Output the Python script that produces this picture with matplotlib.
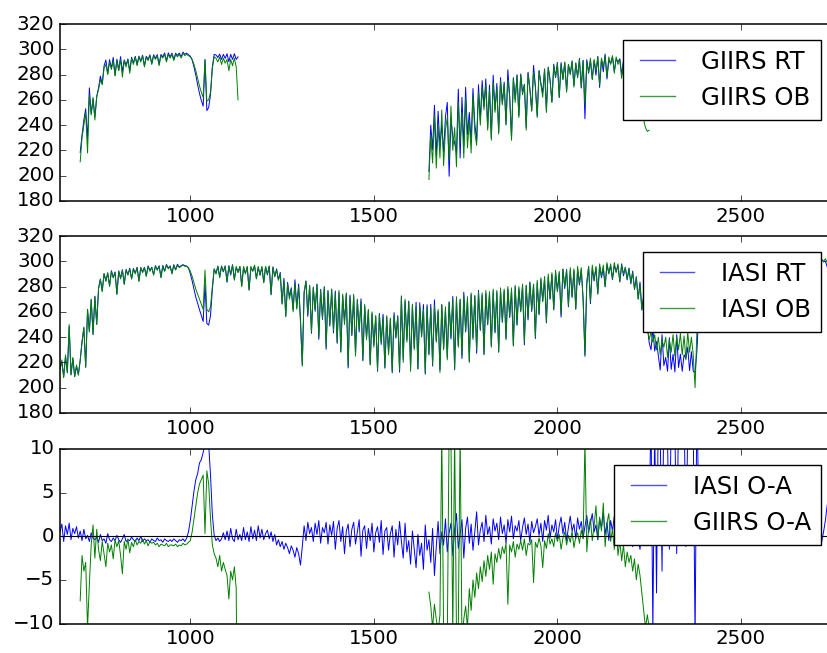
import numpy as np
import matplotlib
matplotlib.use("Agg")
import matplotlib.pyplot as plt
from matplotlib.lines import Line2D

# ---------------------------------------------------------------------------
# Brightness temperature spectra (K) and O-A departures (K), 5 cm-1 sampling
# ---------------------------------------------------------------------------

# IASI, 645-2760 cm-1
iasi_ob = [
    215, 222, 208, 226, 212, 250, 210, 224, 209, 218,   # 645-690
    210, 222, 236, 248, 216, 262, 244, 270, 242, 272,   # 695-740
    250, 278, 286, 276, 290, 284, 291, 280, 292, 287,   # 745-790
    291, 274, 292, 286, 293, 282, 293, 289, 294, 286,   # 795-840
    294, 290, 295, 284, 295, 291, 295, 288, 296, 292,   # 845-890
    295, 289, 296, 293, 296, 287, 296, 292, 297, 294,   # 895-940
    296, 290, 297, 293, 297, 295, 296, 297, 296, 296,   # 945-990
    295, 292, 288, 283, 278, 274, 270, 266, 262, 293,   # 995-1040
    262, 260, 264, 280, 294, 290, 296, 287, 296, 292,   # 1045-1090
    296, 284, 296, 290, 297, 285, 296, 291, 296, 280,   # 1095-1140
    296, 290, 296, 277, 296, 292, 297, 286, 296, 289,   # 1145-1190
    296, 283, 296, 290, 296, 274, 295, 288, 293, 285,   # 1195-1240
    290, 266, 285, 256, 282, 270, 278, 260, 283, 262,   # 1245-1290
    280, 252, 217, 276, 284, 258, 281, 244, 279, 262,   # 1295-1340
    282, 240, 277, 255, 280, 232, 276, 250, 278, 245,   # 1345-1390
    275, 236, 277, 228, 274, 250, 275, 217, 272, 242,   # 1395-1440
    274, 225, 270, 246, 268, 222, 266, 238, 262, 218,   # 1445-1490
    260, 232, 257, 214, 258, 236, 256, 216, 257, 226,   # 1495-1540
    255, 213, 257, 240, 256, 214, 272, 220, 270, 236,   # 1545-1590
    268, 213, 266, 230, 264, 215, 265, 240, 262, 212,   # 1595-1640
    264, 226, 263, 218, 265, 236, 262, 212, 266, 230,   # 1645-1690
    264, 222, 268, 240, 270, 215, 272, 232, 270, 225,   # 1695-1740
    273, 245, 272, 220, 275, 238, 273, 230, 276, 246,   # 1745-1790
    275, 226, 277, 250, 276, 232, 278, 244, 277, 228,   # 1795-1840
    279, 252, 278, 238, 280, 256, 279, 233, 281, 250,   # 1845-1890
    280, 260, 282, 236, 281, 255, 283, 262, 282, 240,   # 1895-1940
    285, 258, 287, 268, 288, 252, 290, 270, 291, 262,   # 1945-1990
    293, 276, 292, 258, 294, 280, 293, 265, 295, 272,   # 1995-2040
    294, 262, 296, 282, 295, 270, 226, 284, 296, 268,   # 2045-2090
    297, 285, 296, 274, 298, 288, 297, 280, 299, 290,   # 2095-2140
    298, 286, 299, 291, 298, 284, 297, 290, 295, 286,   # 2145-2190
    294, 283, 291, 278, 287, 270, 282, 262, 272, 255,   # 2195-2240
    248, 238, 244, 236, 242, 230, 240, 226, 238, 232,   # 2245-2290
    240, 224, 238, 228, 242, 225, 240, 230, 243, 226,   # 2295-2340
    241, 222, 244, 228, 240, 226, 200, 245, 262, 275,   # 2345-2390
    284, 290, 293, 295, 296, 297, 296, 298, 297, 298,   # 2395-2440
    298, 299, 298, 299, 299, 300, 299, 300, 300, 301,   # 2445-2490
    300, 301, 300, 301, 301, 302, 301, 302, 301, 302,   # 2495-2540
    302, 301, 302, 302, 303, 302, 302, 303, 302, 303,   # 2545-2590
    302, 303, 302, 303, 303, 302, 303, 302, 303, 302,   # 2595-2640
    302, 303, 302, 301, 302, 301, 302, 301, 300, 301,   # 2645-2690
    300, 301, 300, 299, 300, 301, 300, 302, 299, 303,   # 2695-2740
    298, 302, 300, 301,                                 # 2745-2760
]

iasi_oa = [
    0.5, 1.4, -0.6, 1.2, 0.2, 1.5, -0.4, 0.9, 0.3, 1.1,
    -0.2, 0.6, -0.5, 0.8, -0.3, 0.1, -0.6, 0.4, -0.2, -0.4,
    -0.1, -0.7, 0.2, -0.5, -0.3, -0.8, 0.3, -0.4, -0.6, -0.2,
    -0.5, 0.1, -0.4, -0.7, -0.3, 0.2, -0.6, -0.4, -0.5, -0.1,
    -0.4, -0.6, -0.2, -0.5, 0.0, -0.6, -0.3, -0.5, -0.4, -0.7,
    -0.3, -0.5, -0.6, -0.2, -0.5, -0.4, -0.7, -0.3, -0.5, -0.6,
    -0.4, -0.6, -0.3, -0.5, -0.7, -0.4, -0.5, -0.3, -0.6, -0.2,
    0.5, 1.8, 3.5, 5.2, 6.5, 7.2, 8.4, 8.8, 9.6, 10.8,
    11.2, 10.5, 7.0, 2.5, 0.1, -0.5, -0.2, -0.6, -0.3, 0.4,
    -0.4, 0.6, -0.5, 0.9, -0.3, -0.6, 0.8, -0.4, 0.2, -0.5,
    1.0, -0.4, 0.5, -0.6, 1.1, -0.3, 0.7, -0.5, 1.2, -0.2,
    0.8, -0.4, 0.3, 0.7, -0.3, 0.5, -0.6, 0.2, -1.0, -0.4,
    -1.2, -0.6, -1.5, -0.8, -1.3, -2.0, -1.1, -1.6, -2.4, -1.3,
    -2.0, -3.3, -1.2, 1.2, -0.5, 1.6, 0.3, 1.0, -0.6, 1.5,
    0.2, 1.8, -0.8, 1.0, 0.4, 1.6, -0.9, 1.3, 0.1, 1.7,
    -1.5, 0.9, 1.8, -0.6, 1.1, -2.0, 0.6, 1.4, -1.2, 0.8,
    1.6, -0.9, 0.5, 1.9, -2.3, 0.7, 1.2, -1.4, 0.9, -0.5,
    1.5, -1.8, 0.4, 1.1, -0.7, 1.8, -2.1, 0.6, 1.0, -1.6,
    0.3, 1.2, -2.4, 0.8, -1.0, 1.7, -0.6, -2.5, 1.5, -1.8,
    -0.5, -3.2, 0.6, -1.5, -3.6, 0.2, -2.2, -0.8, -3.8, 1.3,
    -1.6, -0.4, -3.0, 0.9, -4.5, -1.2, 1.7, -2.0, 0.5, -1.0,
    2.0, -1.8, 0.4, 1.5, -2.2, 0.8, 2.6, -1.4, 0.3, 1.9,
    -2.5, 0.9, 2.2, -0.8, 1.4, -1.6, 0.5, 2.8, -1.0, 0.7,
    1.6, -0.6, 2.4, 0.2, 1.1, -0.9, 2.0, 0.6, 1.5, -0.4,
    2.2, 0.3, 1.3, -0.8, 1.9, 0.5, 2.3, -0.3, 1.2, 0.6,
    1.8, -0.5, 1.0, 2.1, 0.2, 1.4, -0.7, 1.7, 0.4, 1.1,
    2.0, 0.1, 1.5, -0.6, 1.8, 0.7, 2.4, -0.2, 1.3, 0.5,
    1.9, -0.4, 1.2, 2.2, 0.3, 1.6, -0.5, 1.0, 2.3, 0.6,
    1.4, -0.3, 2.1, 0.8, 1.7, -0.2, 1.1, 2.4, 0.4, 1.5,
    2.6, 0.5, 1.3, -0.4, 2.0, 1.0, 2.7, 0.2, 1.6, -0.5,
    1.8, 0.6, 2.3, -0.8, 1.2, 0.4, -1.0, 1.5, -0.3, 0.7,
    -0.6, 0.9, -1.2, 0.3, -0.8, -0.2, -1.5, 0.6, -0.9, -0.4,
    -0.8, 2.5, 14.0, -11.0, 13.0, -6.5, 15.0, 12.0, -4.0, 14.5,
    16.0, 11.0, -1.5, 13.5, 15.5, 12.5, -2.0, 14.0, 16.5, 13.0,
    15.0, -1.2, 12.0, 14.5, 11.5, 13.0, -12.0, 16.0, 3.0, -0.6,
    0.2, -0.6, -0.3, -0.8, -0.4, -0.2, -0.7, -0.5, -0.3, -0.6,
    -0.4, -0.8, -0.2, -0.5, -0.7, -0.3, -0.6, -0.4, -0.9, -0.2,
    -0.5, -0.3, -0.7, -0.4, -0.6, -0.2, -0.8, -0.5, -0.3, -0.6,
    -0.4, -0.7, -0.2, -0.5, -0.3, -0.6, -0.4, -0.8, -0.3, -0.5,
    -0.6, -0.2, -0.5, -0.7, -0.3, -0.4, -0.6, -0.2, -0.5, -0.3,
    -0.7, -0.4, -0.2, -0.6, -0.3, -0.5, -0.8, -0.4, -0.2, -0.6,
    -0.3, -0.5, -0.7, -0.2, -0.4, -0.6, 0.5, 1.8, 3.6, 2.2,
    3.0, 1.5, 2.6, 1.0,
]

# GIIRS long-wave band, 700-1130 cm-1
giirs_lw_ob = [
    211, 230, 240, 250, 218, 264, 248, 262, 244, 263,   # 700-745
    268, 276, 272, 285, 288, 280, 290, 284, 291, 279,   # 750-795
    291, 283, 292, 278, 291, 286, 292, 281, 293, 288,   # 800-845
    294, 287, 294, 290, 295, 286, 294, 291, 295, 288,   # 850-895
    295, 292, 295, 287, 295, 293, 296, 290, 296, 293,   # 900-945
    296, 291, 296, 294, 296, 293, 297, 295, 296, 295,   # 950-995
    294, 292, 288, 283, 277, 271, 266, 262, 292, 259,   # 1000-1045
    260, 266, 285, 294, 293, 290, 294, 288, 293, 289,   # 1050-1095
    292, 283, 292, 287, 293, 286, 260,                  # 1100-1130
]

giirs_lw_oa = [
    -7.4, -2.2, -4.0, -3.0, -10.5, -5.5, -1.0, 1.3, -2.5, 0.8,
    -1.5, -2.8, -0.6, -2.0, -3.5, -0.8, -1.8, -1.0, -2.6, -0.4,
    -1.2, -0.5, -2.2, -4.3, -0.6, -1.5, -0.3, -1.9, -0.7, -1.2,
    -0.4, -1.0, -0.6, -0.8, -0.3, -0.9, -0.5, -1.1, -0.6, -0.8,
    -0.7, -1.0, -0.8, -1.2, -0.9, -1.0, -1.1, -0.8, -1.2, -1.0,
    -1.0, -1.1, -0.9, -1.2, -1.0, -1.1, -0.8, -1.0, -0.9, -0.7,
    -0.5, 0.5, 2.0, 3.5, 5.0, 6.0, 6.5, 7.0, 0.3, 7.5,
    6.0, 2.0, -1.0, -2.0, -2.5, -3.5, -2.2, -4.0, -3.0, -3.8,
    -4.5, -7.2, -4.0, -5.0, -3.5, -6.0, -34.0,
]

# GIIRS mid-wave band, 1650-2250 cm-1
giirs_mw_ob = [
    197, 232, 210, 248, 206, 240, 214, 252, 208, 236,   # 1650-1695
    246, 212, 255, 220, 238, 207, 258, 226, 250, 214,   # 1700-1745
    262, 222, 244, 218, 264, 234, 224, 266, 240, 270,   # 1750-1795
    252, 272, 236, 268, 228, 274, 250, 270, 233, 275,   # 1800-1845
    256, 272, 240, 276, 262, 228, 277, 258, 279, 246,   # 1850-1895
    280, 264, 272, 236, 281, 268, 251, 282, 270, 246,   # 1900-1945
    283, 272, 262, 284, 250, 286, 275, 258, 287, 278,   # 1950-1995
    289, 262, 288, 276, 290, 266, 288, 280, 291, 270,   # 2000-2045
    289, 278, 292, 270, 291, 256, 290, 282, 293, 276,   # 2050-2095
    292, 283, 294, 272, 293, 286, 295, 278, 294, 288,   # 2100-2145
    295, 281, 294, 288, 292, 277, 290, 284, 288, 275,   # 2150-2195
    284, 272, 276, 262, 268, 255, 250, 244, 238, 235,   # 2200-2245
    236,                                                # 2250
]

giirs_mw_oa = [
    -6.4, -8.0, -10.5, -7.8, -9.5, -11.0, -9.0, 12.0, -11.0, -10.5,
    -12.0, 12.5, 11.0, -11.5, 12.0, -11.0, -10.5, 12.0, -12.0, -9.5,
    -8.0, -10.5, -6.0, -8.5, -5.0, -7.0, -4.2, -6.0, -3.5, -5.2,
    -2.8, -4.6, -2.2, -3.8, -1.8, -5.5, -2.0, -3.0, -1.4, -2.6,
    -1.2, -2.0, -0.8, -7.8, -1.0, -1.8, -0.6, -2.4, -0.9, -1.5,
    -0.5, -1.6, -0.3, -2.2, -0.8, -1.0, -0.4, -5.3, -0.7, -1.3,
    -0.2, -1.1, -3.6, -0.5, -1.4, 0.3, -0.9, -0.3, -1.2, 0.4,
    -0.6, 0.2, -1.5, -0.2, 0.5, -1.0, 0.1, -0.7, 0.6, -1.3,
    -0.1, 0.4, -0.8, 0.7, -0.3, 11.0, -1.8, 0.9, 2.0, -0.5,
    1.2, 3.5, -0.4, 2.2, 0.6, 3.8, -1.2, 1.5, 2.6, -0.6,
    0.8, -1.5, 1.6, -2.2, -0.5, -2.8, -1.0, -3.5, -1.8, -3.0,
    -2.2, -4.0, -2.6, -5.0, -3.2, -4.5, -6.5, -8.5, -10.5, -9.0,
    -10.5,
]

# Wavenumber grids (cm-1)
iasi_wn = np.arange(645, 2761, 5)
giirs_lw_wn = np.arange(700, 1131, 5)
giirs_mw_wn = np.arange(1650, 2251, 5)

x_ticks = [1000, 1500, 2000, 2500]
bt_ticks = [180, 200, 220, 240, 260, 280, 300, 320]
oa_ticks = [-10, -5, 0, 5, 10]

# Simulated spectra: observation minus departure
iasi_ob = np.array(iasi_ob, float)
iasi_oa = np.array(iasi_oa, float)
iasi_rt = iasi_ob - iasi_oa
giirs_lw_ob = np.array(giirs_lw_ob, float)
giirs_lw_oa = np.array(giirs_lw_oa, float)
giirs_lw_rt = giirs_lw_ob - giirs_lw_oa
giirs_mw_ob = np.array(giirs_mw_ob, float)
giirs_mw_oa = np.array(giirs_mw_oa, float)
giirs_mw_rt = giirs_mw_ob - giirs_mw_oa

# ---------------------------------------------------------------------------
plt.style.use("classic")
plt.rcParams["font.size"] = 14.2
plt.rcParams["legend.fontsize"] = 17.6
plt.rcParams["axes.linewidth"] = 1.1

W, H = 827.0, 653.0
fig = plt.figure(figsize=(W / 100, H / 100), dpi=100, facecolor="white")


def panel(top, bottom):
    return fig.add_axes([60 / W, (H - bottom) / H, (836.4 - 60) / W, (bottom - top) / H])


LW = 0.7
ax1 = panel(24, 201)
ax2 = panel(236, 413)
ax3 = panel(449, 623.5)

# GIIRS spectra
ax1.plot(giirs_lw_wn, giirs_lw_rt, color="b", lw=LW)
ax1.plot(giirs_mw_wn, giirs_mw_rt, color="b", lw=LW)
ax1.plot(giirs_lw_wn, giirs_lw_ob, color="g", lw=LW)
ax1.plot(giirs_mw_wn, giirs_mw_ob, color="g", lw=LW)

# IASI spectra
ax2.plot(iasi_wn, iasi_rt, color="b", lw=LW)
ax2.plot(iasi_wn, iasi_ob, color="g", lw=LW)

# Departures
ax3.plot(iasi_wn, iasi_oa, color="b", lw=LW)
ax3.plot(giirs_lw_wn, giirs_lw_oa, color="g", lw=LW)
ax3.plot(giirs_mw_wn, giirs_mw_oa, color="g", lw=LW)
ax3.axhline(0, color="k", lw=0.8)

for ax in (ax1, ax2):
    ax.set_ylim(180, 320)
    ax.set_yticks(bt_ticks)
ax3.set_ylim(-10, 10)
ax3.set_yticks(oa_ticks)

legend_labels = {
    ax1: ("GIIRS RT", "GIIRS OB"),
    ax2: ("IASI RT", "IASI OB"),
    ax3: ("IASI O-A", "GIIRS O-A"),
}
for ax in (ax1, ax2, ax3):
    ax.set_xlim(645, 2760)
    ax.set_xticks(x_ticks)
    handles = [Line2D([], [], color=(0.3, 0.3, 1.0), lw=1.0),
               Line2D([], [], color=(0.25, 0.6, 0.25), lw=1.0)]
    ax.legend(handles, legend_labels[ax], loc="upper right", borderaxespad=0.65)

fig.savefig("out.png", dpi=100, facecolor="white")
